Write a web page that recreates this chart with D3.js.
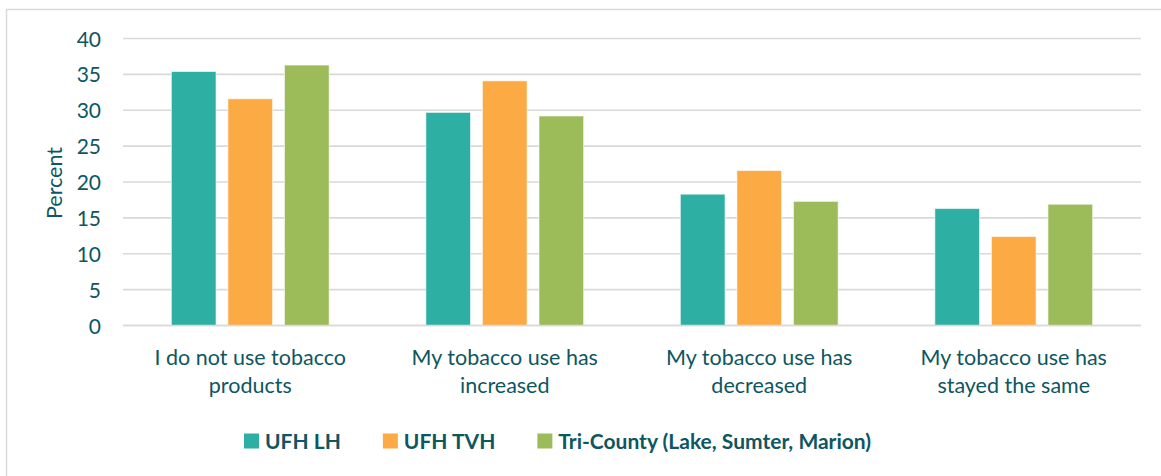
<!DOCTYPE html>
<html><head><meta charset="utf-8">
<script src="https://cdn.jsdelivr.net/npm/d3@7"></script>
<style>
html,body{margin:0;padding:0;background:#fff;}
svg text{font-family:Lato,"Open Sans",sans-serif;}
</style></head>
<body><svg id="c" width="1161" height="476"></svg>
<script>
const categories = [
  ["I do not use tobacco", "products"],
  ["My tobacco use has", "increased"],
  ["My tobacco use has", "decreased"],
  ["My tobacco use has", "stayed the same"]
];
const seriesNames = ["UFH LH", "UFH TVH", "Tri-County (Lake, Sumter, Marion)"];
const ufhLH  = [35.4, 29.7, 18.3, 16.3];
const ufhTVH = [31.6, 34.1, 21.6, 12.4];
const triCounty = [36.3, 29.2, 17.3, 16.9];
const yTicks = [0, 5, 10, 15, 20, 25, 30, 35, 40];
const colors = ["#2EAFA4", "#FCAA43", "#9CBB59"];
const textColor = "#0E5661";

const series = [ufhLH, ufhTVH, triCounty];
const svg = d3.select("#c");

// outer frame
svg.append("rect").attr("x", 6.5).attr("y", 9.5).attr("width", 1170).attr("height", 480)
  .attr("fill", "none").attr("stroke", "#d9d9d9").attr("stroke-width", 1.5);

const pLeft = 123, pRight = 1141, pTop = 38.5, pBottom = 325.5;
const x0 = d3.scaleBand().domain(d3.range(categories.length)).range([pLeft, pRight]).paddingInner(0.38).paddingOuter(0.19);
const y = d3.scaleLinear().domain([0, 40]).range([pBottom, pTop]);

// grid
svg.append("g").selectAll("line").data(yTicks).join("line")
  .attr("x1", pLeft).attr("x2", pRight)
  .attr("y1", d => y(d)).attr("y2", d => y(d))
  .attr("stroke", "#d9d9d9").attr("stroke-width", 1.6);

// y axis labels
const yAxis = d3.axisLeft(y).tickValues(yTicks).tickSize(0).tickPadding(0);
const yg = svg.append("g").attr("transform", `translate(101,0)`).call(yAxis);
yg.select(".domain").remove();
yg.selectAll("text").attr("fill", textColor).style("font-size", "21px").attr("dy", "0.36em");

svg.append("text").attr("transform", `translate(62,183) rotate(-90)`)
  .attr("text-anchor", "middle").attr("fill", textColor).style("font-size", "21.5px").text("Percent");

// bars
const x1 = d3.scaleBand().domain(d3.range(series.length)).range([0, x0.bandwidth()]).paddingInner(0.21);
const groups = svg.append("g").selectAll("g").data(categories).join("g")
  .attr("transform", (d, i) => `translate(${x0(i)},0)`);
groups.selectAll("rect").data((d, i) => series.map((s, j) => ({j, v: s[i]}))).join("rect")
  .attr("x", d => x1(d.j)).attr("width", x1.bandwidth())
  .attr("y", d => y(d.v)).attr("height", d => y(0) - y(d.v))
  .attr("fill", d => colors[d.j]).attr("stroke", "#fff").attr("stroke-opacity", 0.6).attr("stroke-width", 1);

// redraw baseline
svg.append("line").attr("x1", pLeft).attr("x2", pRight).attr("y1", y(0)).attr("y2", y(0))
  .attr("stroke", "#d9d9d9").attr("stroke-width", 1.6);

// category labels
const cl = svg.append("g").selectAll("text").data(categories).join("text")
  .attr("text-anchor", "middle").attr("fill", textColor).style("font-size", "21.5px")
  .attr("transform", (d, i) => `translate(${x0(i) + x0.bandwidth() / 2},0)`);
cl.selectAll("tspan").data(d => d).join("tspan")
  .attr("x", 0).attr("y", (d, k) => 364.5 + k * 28).text(d => d);

// legend
const lg = svg.append("g");
const items = lg.selectAll("g").data(seriesNames).join("g");
items.append("rect").attr("width", 15).attr("height", 15).attr("y", 433.5).attr("fill", (d, i) => colors[i]);
items.append("text").attr("x", 21).attr("y", 441).attr("dy", "0.36em")
  .attr("fill", textColor).style("font-size", "21px").style("font-weight", "bold").text(d => d);
const gap = 42;
const widths = [];
items.each(function() { widths.push(21 + this.querySelector("text").getComputedTextLength()); });
let start = 244;
items.attr("transform", (d, i) => { const t = `translate(${start},0)`; start += widths[i] + gap; return t; });
</script></body></html>
